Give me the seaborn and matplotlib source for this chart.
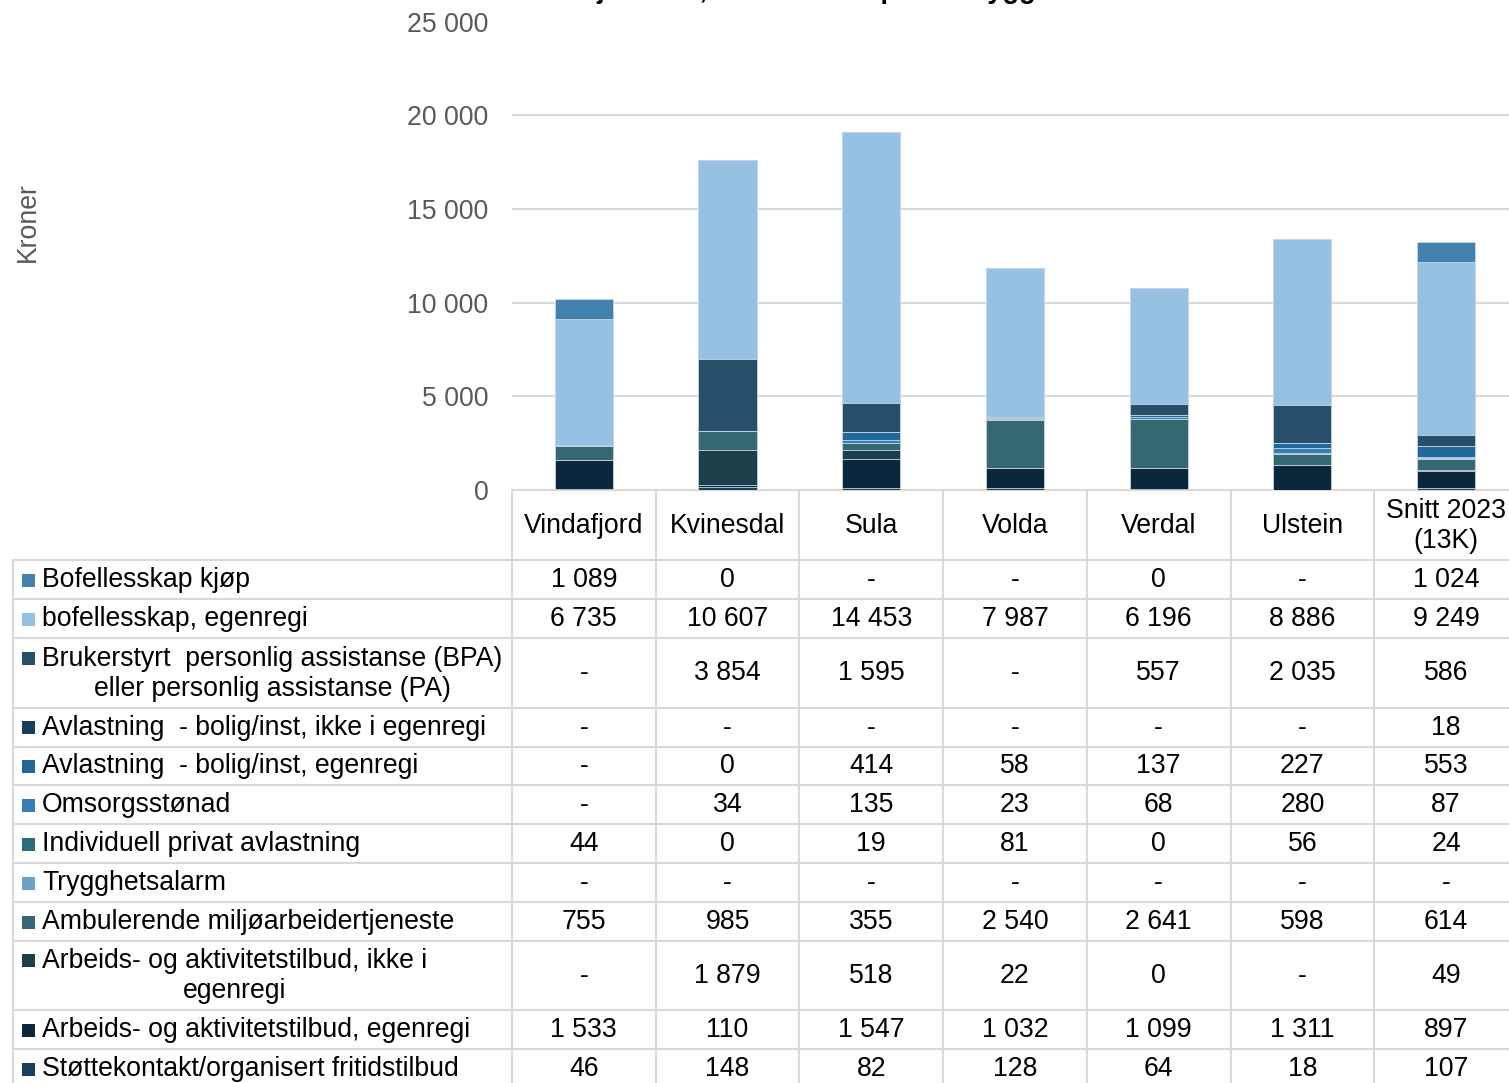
import numpy as np
import matplotlib
matplotlib.use("Agg")
import matplotlib.pyplot as plt
from matplotlib.ticker import FuncFormatter
from matplotlib.patches import Rectangle
import seaborn as sns

sns.set_style("white")
plt.rcParams['font.family'] = ['Liberation Sans', 'DejaVu Sans']

# --- data (table order, top row = top of stack) ---
categories = ["Vindafjord", "Kvinesdal", "Sula", "Volda", "Verdal", "Ulstein", "Snitt 2023\n(13K)"]
series_names = [
    "Bofellesskap kjøp",
    "bofellesskap, egenregi",
    "Brukerstyrt  personlig assistanse (BPA)\neller personlig assistanse (PA)",
    "Avlastning  - bolig/inst, ikke i egenregi",
    "Avlastning  - bolig/inst, egenregi",
    "Omsorgsstønad",
    "Individuell privat avlastning",
    "Trygghetsalarm",
    "Ambulerende miljøarbeidertjeneste",
    "Arbeids- og aktivitetstilbud, ikke i\negenregi",
    "Arbeids- og aktivitetstilbud, egenregi",
    "Støttekontakt/organisert fritidstilbud",
]
bofellesskap_kjop = [1089, 0, None, None, 0, None, 1024]
bofellesskap_egenregi = [6735, 10607, 14453, 7987, 6196, 8886, 9249]
bpa = [None, 3854, 1595, None, 557, 2035, 586]
avlastning_ikke_egenregi = [None, None, None, None, None, None, 18]
avlastning_egenregi = [None, 0, 414, 58, 137, 227, 553]
omsorgsstonad = [None, 34, 135, 23, 68, 280, 87]
individuell_avlastning = [44, 0, 19, 81, 0, 56, 24]
trygghetsalarm = [None, None, None, None, None, None, None]
ambulerende = [755, 985, 355, 2540, 2641, 598, 614]
arbeid_ikke_egenregi = [None, 1879, 518, 22, 0, None, 49]
arbeid_egenregi = [1533, 110, 1547, 1032, 1099, 1311, 897]
stottekontakt = [46, 148, 82, 128, 64, 18, 107]

series_values = [bofellesskap_kjop, bofellesskap_egenregi, bpa, avlastning_ikke_egenregi,
                 avlastning_egenregi, omsorgsstonad, individuell_avlastning, trygghetsalarm,
                 ambulerende, arbeid_ikke_egenregi, arbeid_egenregi, stottekontakt]
colors = ["#4581AE", "#97C1E2", "#284F69", "#143F61", "#21679A", "#3A7DB3",
          "#2E6A7D", "#6AA2CB", "#356870", "#1D3E4B", "#0C263B", "#1A3F5E"]

W, H = 1509, 1083
fig = plt.figure(figsize=(W / 100, H / 100), dpi=100)

def fx(px):
    return px / W

def fy(py):
    return 1 - py / H

# --- stacked bars (cumulative layers, drawn from the top down) ---
col_w = 143.7
ax = fig.add_axes([fx(512), fy(490), fx(col_w * 7), (490 - 21.5) / H])
vals = np.array([[0 if v is None else v for v in s] for s in series_values], dtype=float)
stack = vals[::-1]                      # bottom -> top
cum = np.cumsum(stack, axis=0)
stack_colors = colors[::-1]
for k in range(len(stack) - 1, -1, -1):
    sns.barplot(x=categories, y=cum[k], color=stack_colors[k], width=0.405,
                edgecolor="#c9d9e6", linewidth=0.6, saturation=1, ax=ax)

ax.set_xlim(-0.5, 6.5)
ax.set_ylim(0, 25000)
ax.set_yticks(range(0, 25001, 5000))
ax.yaxis.set_major_formatter(FuncFormatter(lambda v, p: f"{int(v):,}".replace(",", " ")))
ax.tick_params(axis="y", labelsize=19.2, labelcolor="#595959", length=0, pad=17)
ax.set_xticks([])
ax.set_xlabel("")
ax.set_ylabel("")
ax.grid(axis="y", color="#D9D9D9", lw=1.5)
ax.set_axisbelow(True)
for s in ax.spines.values():
    s.set_visible(False)

fig.text(fx(28), fy(222), "Kroner", rotation=90, ha="center", va="center",
         fontsize=19.2, color="#595959")
# title sits above the top edge, only its descenders show (as in the source)
fig.text(fx(472), fy(-2), "Kostnad tjenester, netto kroner per innbygger",
         ha="left", va="baseline", fontsize=19.5, fontweight="bold", color="black")

# --- data table ---
tab = fig.add_axes([0, 0, 1, 1], zorder=-1)
tab.set_xlim(0, W)
tab.set_ylim(H, 0)
tab.axis("off")

line_kw = dict(color="#D9D9D9", lw=1.5)
row_h = [39, 39, 70, 38.5, 38.5, 39, 39, 39, 39, 69, 39, 39]
row_edges = [560]
for h in row_h:
    row_edges.append(row_edges[-1] + h)
col_edges = [512 + i * col_w for i in range(8)]

tab.plot([512, W], [490, 490], **line_kw)
for y in row_edges:
    tab.plot([13, W], [y, y], **line_kw)
tab.plot([13, 13], [560, H], **line_kw)
for x in col_edges:
    tab.plot([x, x], [490, H], **line_kw)

fs = 19.2
for i, c in enumerate(categories):
    tab.text((col_edges[i] + col_edges[i + 1]) / 2, 526, c, ha="center", va="center",
             fontsize=fs, color="black", multialignment="center", linespacing=1.2)

for r, (name, sv, col) in enumerate(zip(series_names, series_values, colors)):
    y0, y1 = row_edges[r], row_edges[r + 1]
    yc = (y0 + y1) / 2 + 0.5
    nlines = name.count("\n") + 1
    tab.text(42, yc, name, ha="left", va="center", fontsize=fs, color="black",
             multialignment="center", linespacing=1.2)
    first_y = yc - (nlines - 1) * 15.5
    tab.add_patch(Rectangle((22, first_y - 6.5), 13, 13, color=col, lw=0))
    for i, v in enumerate(sv):
        txt = "-" if v is None else f"{v:,}".replace(",", " ")
        tab.text((col_edges[i] + col_edges[i + 1]) / 2, yc, txt, ha="center", va="center",
                 fontsize=fs, color="black")

fig.savefig("out.png", dpi=100)
